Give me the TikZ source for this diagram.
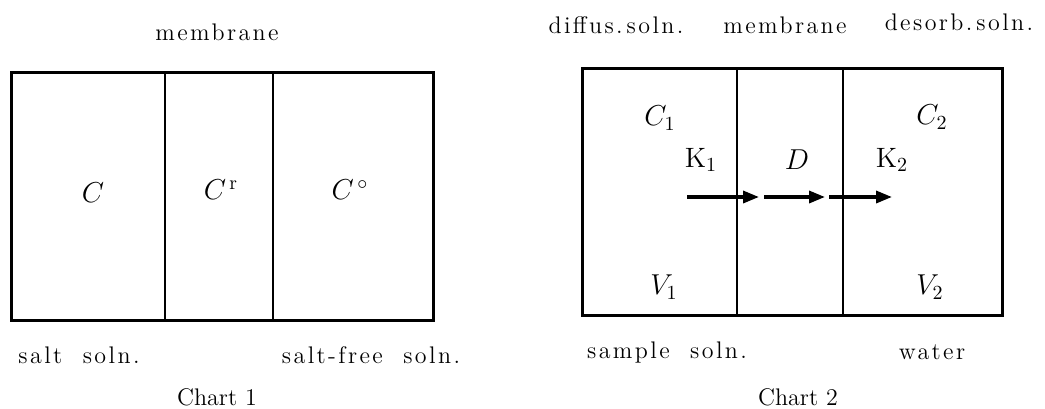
\documentclass[tikz,border=0pt]{standalone}
\usepackage{fontspec}
\usetikzlibrary{arrows.meta}
\newfontfamily\lblfont[LetterSpace=10,WordSpace=2]{Latin Modern Roman}
\begin{document}
\begin{tikzpicture}[x=0.5pt,y=-0.5pt,
  lbl/.style={font=\fontsize{12}{14}\lblfont, inner sep=0pt},
  charttitle/.style={font=\fontsize{12}{14}\selectfont, inner sep=0pt},
  sym/.style={font=\fontsize{14}{16}\selectfont, inner sep=0pt},
  outer/.style={line width=1.5pt},
  wall/.style={line width=0.7pt},
  flow/.style={line width=1.7pt, -{Triangle[length=8pt,width=6pt]}}]
\useasboundingbox (0,0) rectangle (1045,408);
% Chart 1
\draw[outer] (11,72) rectangle (433,320);
\draw[wall] (165,72) -- (165,320);
\draw[wall] (273,72) -- (273,320);
\node[lbl] (m1) at (217,32) {membrane};
\node[sym] (c) at (93,193) {$C$};
\node[sym] (cr) at (221,190) {$C^{\,\mathrm{r}}$};
\node[sym] (co) at (350,190) {$C^{\,\circ}$};
\node[lbl] (salt) at (79,355) {salt soln.};
\node[lbl] (saltfree) at (371,355) {salt-free soln.};
\node[charttitle] (ch1) at (217,397) {Chart 1};
% Chart 2
\draw[outer] (582,68) rectangle (1002,315);
\draw[wall] (737,68) -- (737,315);
\draw[wall] (843,68) -- (843,315);
\node[lbl] (diff) at (616,25) {diffus.\,soln.};
\node[lbl] (m2) at (785,25) {membrane};
\node[lbl] (desorb) at (959,22) {desorb.\,soln.};
\node[sym] (c1) at (660,118) {$C_1$};
\node[sym] (c2) at (932,117) {$C_2$};
\node[sym] (v1) at (664,287) {$V_1$};
\node[sym] (v2) at (930,287) {$V_2$};
\node[sym] (k1) at (701,160) {$\mathrm{K}_1$};
\node[sym] (d) at (797,160) {$D$};
\node[sym] (k2) at (892,160) {$\mathrm{K}_2$};
\coordinate (a1s) at (687,197);
\coordinate (a1e) at (759,197);
\coordinate (a2s) at (764,197);
\coordinate (a2e) at (825,197);
\coordinate (a3s) at (829,197);
\coordinate (a3e) at (892,197);
\draw[flow] (a1s) -- (a1e);
\draw[flow] (a2s) -- (a2e);
\draw[flow] (a3s) -- (a3e);
\node[lbl] (sample) at (667,352) {sample soln.};
\node[lbl] (water) at (932,352) {water};
\node[charttitle] (ch2) at (798,397) {Chart 2};
\end{tikzpicture}
\end{document}
